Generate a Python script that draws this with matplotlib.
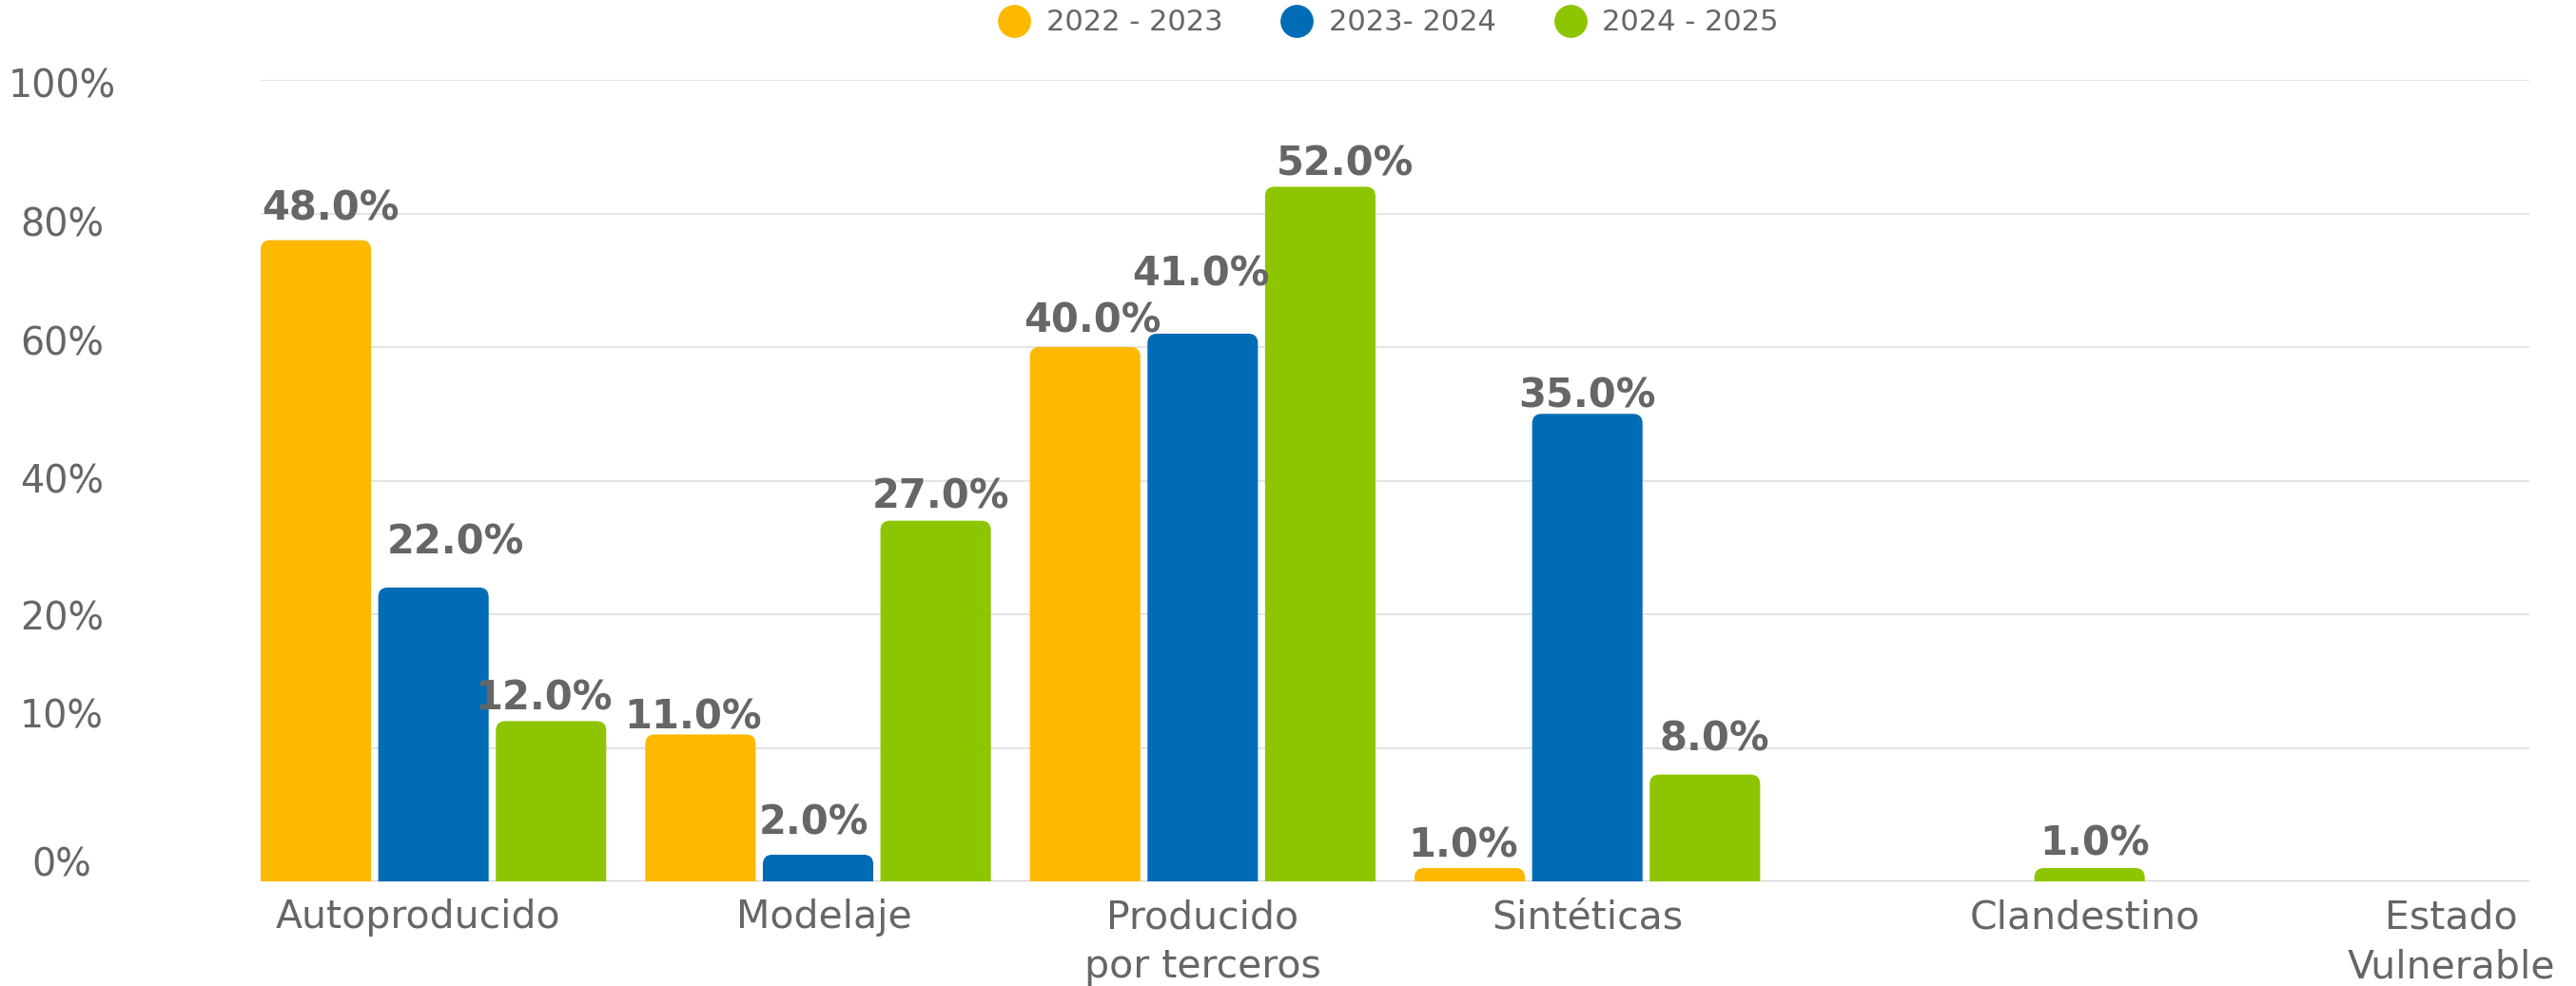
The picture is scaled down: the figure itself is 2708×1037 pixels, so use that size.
import matplotlib
matplotlib.use("Agg")
import matplotlib.pyplot as plt
import numpy as np
from matplotlib.patches import FancyBboxPatch
from matplotlib.lines import Line2D
import matplotlib.transforms as mtransforms

# Daten
categorias = ["Autoproducido", "Modelaje", "Producido\npor terceros",
              "Sintéticas", "Clandestino", "Estado\nVulnerable"]
series = ["2022 - 2023", "2023- 2024", "2024 - 2025"]
v_2223 = [48, 11, 40, 1, 0, 0]
v_2324 = [22, 2, 41, 35, 0, 0]
v_2425 = [12, 27, 52, 8, 1, 0]
colores = ["#FDB800", "#006CB5", "#8DC600"]

# Achse: Skala 0-60, Beschriftung wie im Original
ytick_txt = ["0%", "10%", "20%", "40%", "60%", "80%", "100%"]
ytick_pos = [0.36, 11.5, 18.8, 29.1, 39.4, 48.3, 58.65]
xlabel_shift = [-0.04, 0.015, 0.0, 0.0, 0.295, 0.247]

# Verschiebung der Wertebeschriftungen (px)
nudge_dx = [[15, -8, 8, -7, 0, 0], [23, -4, -2, 0, 0, 0], [-8, 5, 26, 10, 6, 0]]
nudge_dy = [[21, 6, 16, 11, 0, 0], [35, 21, 50, 7, 0, 0], [12, 13, 12, 25, 13, 0]]

W, H, DPI = 2708, 1037, 100
fig = plt.figure(figsize=(W / DPI, H / DPI), dpi=DPI)
ax = fig.add_axes([274 / W, 1 - 927 / H, (2659 - 274) / W, (927 - 84) / H])

grau = "#666666"
step, bw = 0.3057, 0.2871
x = np.arange(len(categorias))
ax.set_xlim(-step - bw / 2, len(categorias) - 1 + step + bw / 2)
ax.set_ylim(0, 60)

# Pixel pro Einheit für runde Ecken
p0 = ax.transData.transform((0, 0))
p1 = ax.transData.transform((1, 1))
pxx, pxy = p1[0] - p0[0], p1[1] - p0[1]
rx = 10 / pxx
ry = 10 / pxy

pt = 72 / DPI
for k, (vals, col) in enumerate(zip([v_2223, v_2324, v_2425], colores)):
    bars = ax.bar(x + (k - 1) * step, vals, bw, color=col, zorder=3)
    for i, (b, v) in enumerate(zip(bars, vals)):
        bx, bwid, bh = b.get_x(), b.get_width(), b.get_height()
        b.remove()
        if v <= 0:
            continue
        ax.add_patch(FancyBboxPatch((bx, -ry), bwid, bh + ry,
                                    boxstyle=f"round,pad=0,rounding_size={rx}",
                                    mutation_aspect=ry / rx, fc=col, ec="none",
                                    zorder=3))
        ax.annotate(f"{v:.1f}%", (bx + bwid / 2, v),
                    xytext=(nudge_dx[k][i] * pt, nudge_dy[k][i] * pt),
                    textcoords="offset points", ha="center", va="baseline",
                    fontsize=30, fontweight="bold", color=grau, zorder=4)

# Gitter
for g in range(0, 61, 10):
    ax.axhline(g, color="#e4e4e4", lw=1.4, zorder=1)
ax.axhline(0, color="#c6c6c6", lw=1.8, zorder=2)

for s in ax.spines.values():
    s.set_visible(False)
ax.set_yticks([])
ax.set_xticks(x + np.array(xlabel_shift), categorias)
ax.tick_params(axis="x", length=0, pad=13, labelsize=29.5, labelcolor=grau)
for t in ax.get_xticklabels():
    t.set_linespacing(1.4)

trans = mtransforms.blended_transform_factory(fig.transFigure, ax.transData)
for txt, yp in zip(ytick_txt, ytick_pos):
    ax.text(65 / W, yp, txt, transform=trans, ha="center", va="baseline",
            fontsize=28.5, color=grau, clip_on=False)

handles = [Line2D([], [], ls="none", marker="o", ms=24, mfc=c, mec=c)
           for c in colores]
fig.legend(handles, series, loc="center", bbox_to_anchor=(0.539, 1 - 24 / H),
           ncol=3, frameon=False, fontsize=22, labelcolor=grau,
           handlelength=1.1, handletextpad=0.55, columnspacing=2.0)

fig.savefig("out.png", dpi=DPI)
